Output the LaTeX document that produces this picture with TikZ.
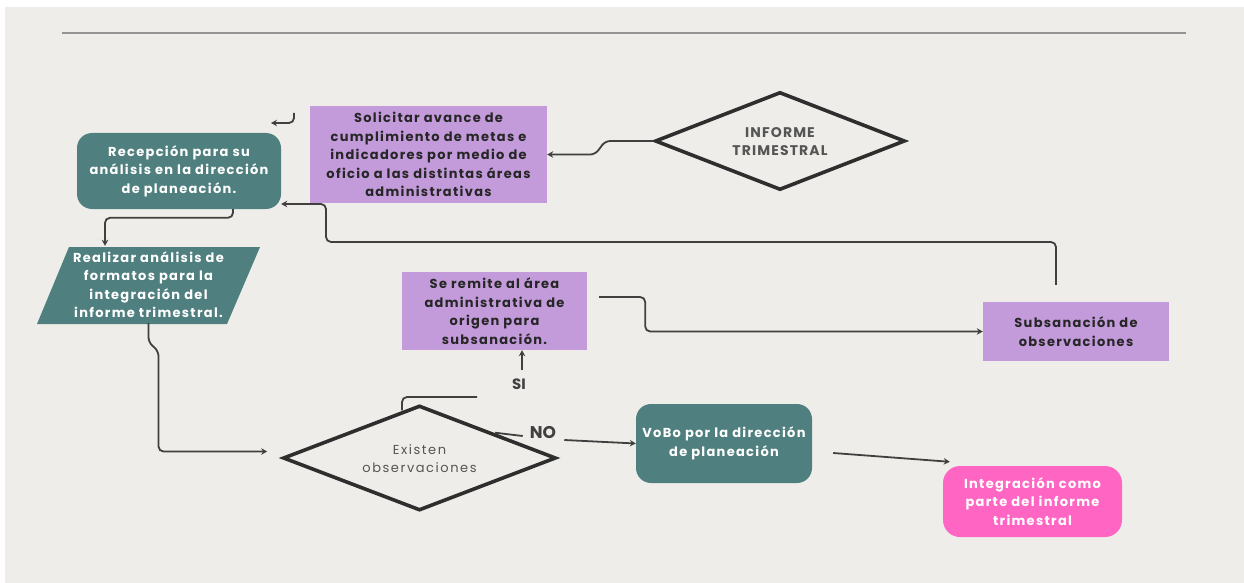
\documentclass[tikz,border=0pt]{standalone}
\usepackage{fontspec}
\setmainfont{Poppins}
\usetikzlibrary{shapes.geometric,arrows.meta}
\definecolor{paper}{HTML}{EEEDE9}
\definecolor{tealbox}{HTML}{4F7F7E}
\definecolor{lila}{HTML}{C39BDB}
\definecolor{rosa}{HTML}{FF66C4}
\definecolor{ink}{HTML}{404040}
\definecolor{edge}{HTML}{2E2E2E}
\definecolor{softtext}{HTML}{555555}

% text of zero size, so a diamond keeps its given width and height
\newcommand{\flatlines}[1]{\smash{\makebox[0pt]{\raisebox{-5pt}{\begin{tabular}{@{}c@{}}#1\end{tabular}}}}}

\tikzset{
  flow/.style={draw=ink, line width=1.8pt, rounded corners=5pt, -{Stealth[length=6pt,width=6.5pt]}},
  plainline/.style={draw=ink, line width=1.8pt, rounded corners=5pt},
  boxfont/.style={font=\fontsize{13}{18.5}\selectfont\bfseries\addfontfeature{LetterSpace=10}},
  roundbox/.style={boxfont, rounded corners=15pt, text=white, align=center, inner sep=0pt},
  lilabox/.style={boxfont, fill=lila, text=black!85, align=center, inner sep=0pt},
  decision/.style={diamond, draw=edge, line width=3.6pt, inner sep=0pt},
  answer/.style={font=\fontsize{15}{15}\selectfont\bfseries, text=ink, inner sep=0pt},
}

\begin{document}
\begin{tikzpicture}[x=1pt,y=-1pt]
  % page and backdrop
  \useasboundingbox (0,0) rectangle (1244,583);
  \fill[white] (0,0) rectangle (1244,583);
  \fill[paper] (5,7) rectangle (1244,583);
  \draw[line width=2pt, draw=gray!85] (62,33) -- (1186,33);

  % parallelogram behind the analysis step
  \fill[tealbox] (69,247) -- (260,247) -- (227,324) -- (37,324) -- cycle;

  % process steps
  \node[roundbox, fill=tealbox, minimum width=204pt, minimum height=76pt] (recep) at (179,171)
    {Recepción para su\\análisis en la dirección\\de planeación.};
  \node[lilabox, minimum width=237pt, minimum height=97pt] (solicitar) at (428.5,154.5)
    {Solicitar avance de\\cumplimiento de metas e\\indicadores por medio de\\oficio a las distintas áreas\\administrativas};
  \node[decision, minimum width=250pt, minimum height=98pt,
        font=\fontsize{14}{18}\selectfont\bfseries\addfontfeature{LetterSpace=8}, text=softtext] (informe) at (780,141)
    {\flatlines{INFORME\\TRIMESTRAL}};
  \node[boxfont, text=white, align=center, inner sep=0pt, minimum width=223pt, minimum height=77pt] (realizar) at (148.5,284.5)
    {Realizar análisis de\\formatos para la\\integración del\\informe trimestral.};
  \node[lilabox, minimum width=185pt, minimum height=78pt] (remite) at (494.5,311)
    {Se remite al área\\administrativa de\\origen para\\subsanación.};
  \node[lilabox, minimum width=186pt, minimum height=59pt] (subs) at (1076,331.5)
    {Subsanación de\\observaciones};
  \node[decision, minimum width=273pt, minimum height=105pt,
        font=\fontsize{13}{18}\selectfont\addfontfeature{LetterSpace=12}, text=softtext] (existen) at (419.5,458)
    {\flatlines{Existen\\observaciones}};
  \node[roundbox, fill=tealbox, minimum width=176pt, minimum height=79pt] (vobo) at (724,443.5)
    {VoBo por la dirección\\de planeación};
  \node[roundbox, fill=rosa, rounded corners=17pt, minimum width=179pt, minimum height=71pt] (integ) at (1032.5,501.5)
    {Integración como\\parte del informe\\trimestral};

  % branch labels
  \node[answer] (si) at (519,384) {SI};
  \node[answer, font=\fontsize{17}{17}\selectfont\bfseries] (no) at (543,433) {NO};

  % loose ends of the connectors
  \coordinate (hookTop) at (294,113);
  \coordinate (hookEnd) at (271,123);
  \coordinate (loopR) at (1056,242);
  \coordinate (loopL) at (326,242);
  \coordinate (siStop) at (477,397);

  % connectors
  \draw[flow] (hookTop) |- (hookEnd);
  \draw[flow] (informe.west) -- ++(-48,0) -- ++(-10,13.5) -- (solicitar.east);
  \draw[flow] ([xshift=54pt]recep.south) |- ([xshift=-43.5pt,yshift=28pt]realizar.north)
    -- ([xshift=-43.5pt]realizar.north);
  \draw[flow] (realizar.south) -- ++(0,19) -- ++(10,9) |- ([xshift=-14pt,yshift=6.5pt]existen.west);
  \draw[plainline] ([xshift=-17.5pt,yshift=-6.7pt]existen.north) |- (siStop);
  \draw[flow] ([xshift=3pt,yshift=8pt]si.north) -- ([xshift=3pt]si.north |- remite.south);
  \draw[plainline] ([xshift=75.5pt,yshift=-29pt]existen.north) -- ([xshift=-7pt,yshift=-3pt]no.west);
  \draw[flow] ([xshift=8pt,yshift=-7pt]no.east) -- (vobo.west);
  \draw[flow] ([xshift=12pt,yshift=14pt]remite.east) -- ++(46,0) |- (subs.west);
  \draw[flow] ([xshift=-20pt,yshift=17pt]subs.north) -- (loopR) -- (loopL) |- ([yshift=-33pt]recep.east);
  \draw[flow] ([xshift=21pt,yshift=-9.5pt]vobo.east) -- ([xshift=7pt,yshift=4pt]integ.north west);
\end{tikzpicture}
\end{document}
